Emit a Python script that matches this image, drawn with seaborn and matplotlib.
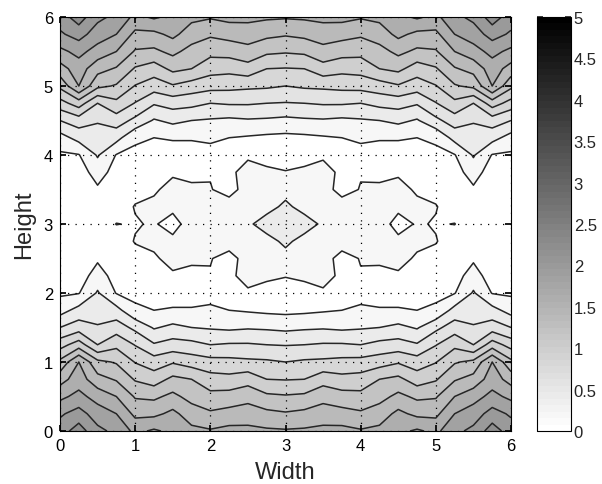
import numpy as np
import matplotlib
matplotlib.use("Agg")
import matplotlib.pyplot as plt
import seaborn as sns
from matplotlib.colors import Normalize, ListedColormap
from matplotlib.cm import ScalarMappable
from matplotlib.ticker import FormatStrFormatter

sns.set_theme(style="white")
plt.rcParams['font.family'] = ['Liberation Sans', 'DejaVu Sans']

# field is symmetric in width and height, so only the lower-left quarter is kept
# each list: values along Height = 0, 0.25, ..., 3 for one Width position
col_000 = [2.10, 1.97, 1.75, 1.52, 1.25, 0.92, 0.60, 0.32, 0.17, 0.10, 0.07, 0.06, 0.05]
col_025 = [2.30, 2.08, 1.86, 1.70, 1.60, 1.10, 0.70, 0.47, 0.19, 0.10, 0.07, 0.06, 0.06]
col_050 = [2.05, 1.90, 1.72, 1.47, 1.25, 0.80, 0.62, 0.50, 0.42, 0.29, 0.17, 0.08, 0.07]
col_075 = [1.95, 1.80, 1.60, 1.38, 1.18, 0.95, 0.70, 0.47, 0.19, 0.12, 0.10, 0.10, 0.205]
col_100 = [1.75, 1.55, 1.38, 1.18, 0.99, 0.79, 0.55, 0.23, 0.16, 0.12, 0.14, 0.211, 0.185]
col_125 = [1.83, 1.55, 1.36, 1.10, 0.90, 0.62, 0.38, 0.20, 0.12, 0.12, 0.17, 0.25, 0.22]
col_150 = [1.75, 1.65, 1.45, 1.25, 0.98, 0.68, 0.45, 0.21, 0.15, 0.17, 0.27, 0.25, 0.12]
col_175 = [1.65, 1.50, 1.33, 1.20, 0.91, 0.66, 0.40, 0.21, 0.15, 0.17, 0.22, 0.30, 0.30]
col_200 = [1.62, 1.43, 1.26, 1.08, 0.87, 0.60, 0.38, 0.21, 0.18, 0.187, 0.21, 0.28, 0.30]
col_225 = [1.66, 1.47, 1.28, 1.06, 0.86, 0.62, 0.36, 0.20, 0.16, 0.16, 0.13, 0.29, 0.32]
col_250 = [1.65, 1.50, 1.33, 1.12, 0.84, 0.62, 0.38, 0.18, 0.17, 0.27, 0.28, 0.30, 0.35]
col_275 = [1.63, 1.45, 1.24, 1.00, 0.83, 0.60, 0.37, 0.16, 0.12, 0.24, 0.27, 0.30, 0.53]
col_300 = [1.62, 1.42, 1.22, 0.99, 0.80, 0.59, 0.35, 0.15, 0.10, 0.21, 0.30, 0.46, 0.55]

levels = [0, 0.2, 0.4, 0.6, 0.8, 1.0, 1.2, 1.4, 1.6, 1.8, 2.0, 2.2, 2.4]
cbar_ticks = [0, 0.5, 1, 1.5, 2, 2.5, 3, 3.5, 4, 4.5, 5]
axis_ticks = [0, 1, 2, 3, 4, 5, 6]

quarter = np.column_stack([col_000, col_025, col_050, col_075, col_100, col_125, col_150,
                           col_175, col_200, col_225, col_250, col_275, col_300])
half = np.hstack([quarter, quarter[:, -2::-1]])
z = np.vstack([half, half[-2::-1, :]])
x = np.linspace(0, 6, z.shape[1])
y = np.linspace(0, 6, z.shape[0])

cmap = ListedColormap(plt.get_cmap('gray_r')(np.linspace(0, 1, 64)))
norm = Normalize(0, 5)
# matlab fills each band with the colour of its lower level
fill_colors = [cmap(norm(v)) for v in levels[:-1]]

fig = plt.figure(figsize=(6.02, 4.85), dpi=100)
ax = fig.add_axes([60 / 602, 53 / 485, 451 / 602, 414 / 485])
ax.contourf(x, y, z, levels=levels, colors=fill_colors)
ax.contour(x, y, z, levels=levels[1:-1], colors='#262626', linewidths=1.1)

ax.set_xlim(0, 6)
ax.set_ylim(0, 6)
ax.set_xticks(axis_ticks)
ax.set_yticks(axis_ticks)
ax.set_axisbelow(False)
ax.grid(True, color='black', linestyle=(0, (1, 5)), linewidth=0.9)
ax.tick_params(direction='in', length=4, top=True, right=True, bottom=True, left=True,
               labelsize=12, colors='black', pad=5)
for s in ax.spines.values():
    s.set_color('black')
    s.set_linewidth(0.8)
ax.set_xlabel('Width', fontsize=17, labelpad=6)
ax.set_ylabel('Height', fontsize=17, labelpad=6)

cax = fig.add_axes([537 / 602, 53 / 485, 34 / 602, 414 / 485])
cb = fig.colorbar(ScalarMappable(norm=norm, cmap=cmap), cax=cax, ticks=cbar_ticks)
cb.outline.set_edgecolor('black')
cb.outline.set_linewidth(0.8)
cax.yaxis.set_major_formatter(FormatStrFormatter('%g'))
cax.tick_params(direction='in', length=4, left=True, right=True, labelsize=12, pad=2)

fig.savefig('out.png', dpi=100)
